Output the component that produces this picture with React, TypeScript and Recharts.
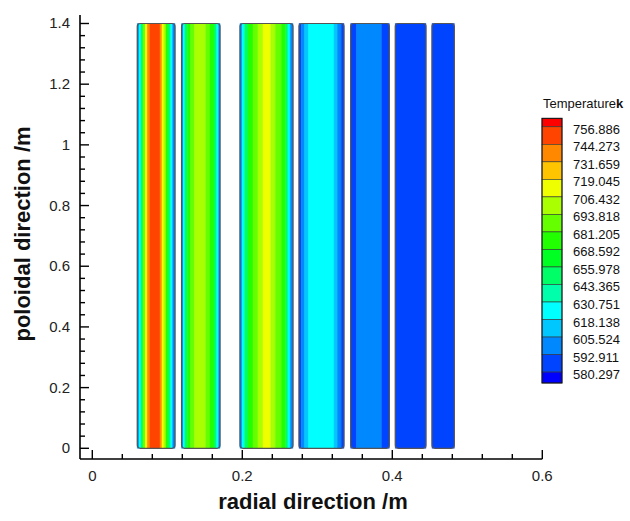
import React from 'react'
import { ComposedChart, XAxis, YAxis, ReferenceArea } from 'recharts'

// contour level colours, hottest (top of legend) to coldest
const levelColors = [
  '#FF0000', '#FF4400', '#FF8800', '#FFC400', '#F0FF00', '#AAFF00', '#66FF00', '#22FF00',
  '#00FF22', '#00FF66', '#00FFAA', '#00FFFF', '#00C8FF', '#0088FF', '#0044FF', '#0000FF'
]
const levelLabels = [
  '756.886', '744.273', '731.659', '719.045', '706.432', '693.818', '681.205', '668.592',
  '655.978', '643.365', '630.751', '618.138', '605.524', '592.911', '580.297'
]

// axis ticks (major every 0.2, minor every 0.04)
const xTicks = [0, 0.04, 0.08, 0.12, 0.16, 0.2, 0.24, 0.28, 0.32, 0.36, 0.4, 0.44, 0.48, 0.52, 0.56, 0.6]
const yTicks = [
  0, 0.04, 0.08, 0.12, 0.16, 0.2, 0.24, 0.28, 0.32, 0.36, 0.4, 0.44, 0.48, 0.52, 0.56, 0.6, 0.64, 0.68,
  0.72, 0.76, 0.8, 0.84, 0.88, 0.92, 0.96, 1, 1.04, 1.08, 1.12, 1.16, 1.2, 1.24, 1.28, 1.32, 1.36, 1.4
]

// band edges across each channel (radial m) and the colour level of each band
const strip1Edges = [0.06, 0.0623, 0.0649, 0.0676, 0.0707, 0.0733, 0.0769, 0.0903, 0.0929, 0.0956, 0.0983, 0.1009, 0.1045, 0.1072, 0.1103]
const strip1Levels = [13, 11, 9, 6, 4, 2, 1, 2, 4, 5, 7, 9, 11, 13]
const strip2Edges = [0.119, 0.1212, 0.1236, 0.1267, 0.1312, 0.1365, 0.1512, 0.1569, 0.1623, 0.1659, 0.1685, 0.1703]
const strip2Levels = [13, 11, 9, 7, 6, 5, 6, 7, 9, 11, 13]
const strip3Edges = [0.1969, 0.1996, 0.2032, 0.2076, 0.2143, 0.2209, 0.2276, 0.2379, 0.244, 0.252, 0.2579, 0.2609, 0.264, 0.2676]
const strip3Levels = [13, 11, 9, 7, 6, 5, 4, 5, 6, 7, 9, 11, 13]
const strip4Edges = [0.2756, 0.2787, 0.2832, 0.2885, 0.3223, 0.3269, 0.332, 0.3356]
const strip4Levels = [14, 13, 12, 11, 12, 13, 14]
const strip5Edges = [0.3445, 0.3525, 0.386, 0.396]
const strip5Levels = [14, 13, 14]
const strip6Edges = [0.404, 0.4449]
const strip6Levels = [14]
const strip7Edges = [0.4529, 0.4827]
const strip7Levels = [14]

const strips = [
  { edges: strip1Edges, levels: strip1Levels },
  { edges: strip2Edges, levels: strip2Levels },
  { edges: strip3Edges, levels: strip3Levels },
  { edges: strip4Edges, levels: strip4Levels },
  { edges: strip5Edges, levels: strip5Levels },
  { edges: strip6Edges, levels: strip6Levels },
  { edges: strip7Edges, levels: strip7Levels }
]

const FONT = '"Liberation Sans", Arial, sans-serif'
const isMajor = (v: number) => Math.abs(v / 0.2 - Math.round(v / 0.2)) < 1e-6
const fmt = (v: number) => String(Math.round(v * 10) / 10)

// ticks point into the plot, like tecplot
const XTick = ({ x, y, payload }: any) => {
  const major = isMajor(payload.value)
  return (
    <g>
      <line x1={x} y1={y} x2={x} y2={y - (major ? 9 : 5)} stroke="#000" strokeWidth={1.4} />
      {major && (
        <text x={x} y={y + 22} textAnchor="middle" fontSize={15} fontFamily={FONT} fill="#222">
          {fmt(payload.value)}
        </text>
      )}
    </g>
  )
}

const YTick = ({ x, y, payload }: any) => {
  const major = isMajor(payload.value)
  return (
    <g>
      <line x1={x} y1={y} x2={x + (major ? 9 : 5)} y2={y} stroke="#000" strokeWidth={1.4} />
      {major && (
        <text x={x - 10} y={y + 5} textAnchor="end" fontSize={15} fontFamily={FONT} fill="#222">
          {fmt(payload.value)}
        </text>
      )}
    </g>
  )
}

const TempLegend = () => {
  const top = 118.3
  const first = 126.8
  const step = 17.52
  const bottom = 383
  return (
    <g fontFamily={FONT}>
      <text x={543} y={108} fontSize={13} fill="#111">
        Temperature<tspan fontWeight="bold">k</tspan>
      </text>
      {levelColors.map((c, i) => {
        const y1 = i === 0 ? top : first + step * (i - 1)
        const y2 = i === levelColors.length - 1 ? bottom : first + step * i
        return <rect key={i} x={542} y={y1} width={20} height={y2 - y1} fill={c} stroke="#333" strokeWidth={0.6} />
      })}
      <rect x={542} y={top} width={20} height={bottom - top} fill="none" stroke="#111" strokeWidth={1} />
      {levelLabels.map((l, i) => (
        <text key={l} x={573} y={first + step * i + 7} fontSize={13} fill="#111">
          {l}
        </text>
      ))}
    </g>
  )
}

export default function App() {
  return (
    <div style={{ position: 'absolute', left: 0, top: 0, width: 630, height: 521, background: '#fff' }}>
      <ComposedChart width={630} height={521} data={[]} margin={{ top: 15, right: 87.7, bottom: 22, left: 20 }}>
        <XAxis
          type="number"
          dataKey="x"
          domain={[-0.0164, 0.6]}
          allowDataOverflow
          ticks={xTicks}
          interval={0}
          height={40}
          tickSize={0}
          tickMargin={0}
          tickLine={false}
          axisLine={{ stroke: '#000', strokeWidth: 1.6 }}
          tick={<XTick />}
        />
        <YAxis
          type="number"
          domain={[-0.0353, 1.428]}
          allowDataOverflow
          ticks={yTicks}
          interval={0}
          width={60}
          tickSize={0}
          tickMargin={0}
          tickLine={false}
          axisLine={{ stroke: '#000', strokeWidth: 1.6 }}
          tick={<YTick />}
        />
        {strips.map((s, si) =>
          s.levels.map((lv, bi) => (
            <ReferenceArea
              key={`b-${si}-${bi}`}
              x1={s.edges[bi]}
              x2={s.edges[bi + 1]}
              y1={0}
              y2={1.4}
              fill={levelColors[lv]}
              fillOpacity={1}
              stroke={levelColors[lv]}
              strokeWidth={0.5}
              ifOverflow="visible"
            />
          ))
        )}
        {strips.map((s, si) => (
          <ReferenceArea
            key={`o-${si}`}
            x1={s.edges[0]}
            x2={s.edges[s.edges.length - 1]}
            y1={0}
            y2={1.4}
            fill="none"
            stroke="#555"
            strokeWidth={1.2}
            radius={3}
            ifOverflow="visible"
          />
        ))}
      </ComposedChart>
      <svg width={630} height={521} style={{ position: 'absolute', left: 0, top: 0, pointerEvents: 'none' }}>
        <text x={313} y={509} textAnchor="middle" fontSize={22} fontWeight="bold" fontFamily={FONT} fill="#111">
          radial direction /m
        </text>
        <text
          transform="translate(30,234) rotate(-90)"
          textAnchor="middle"
          fontSize={22}
          fontWeight="bold"
          fontFamily={FONT}
          fill="#111"
        >
          poloidal direction /m
        </text>
        <TempLegend />
      </svg>
    </div>
  )
}
